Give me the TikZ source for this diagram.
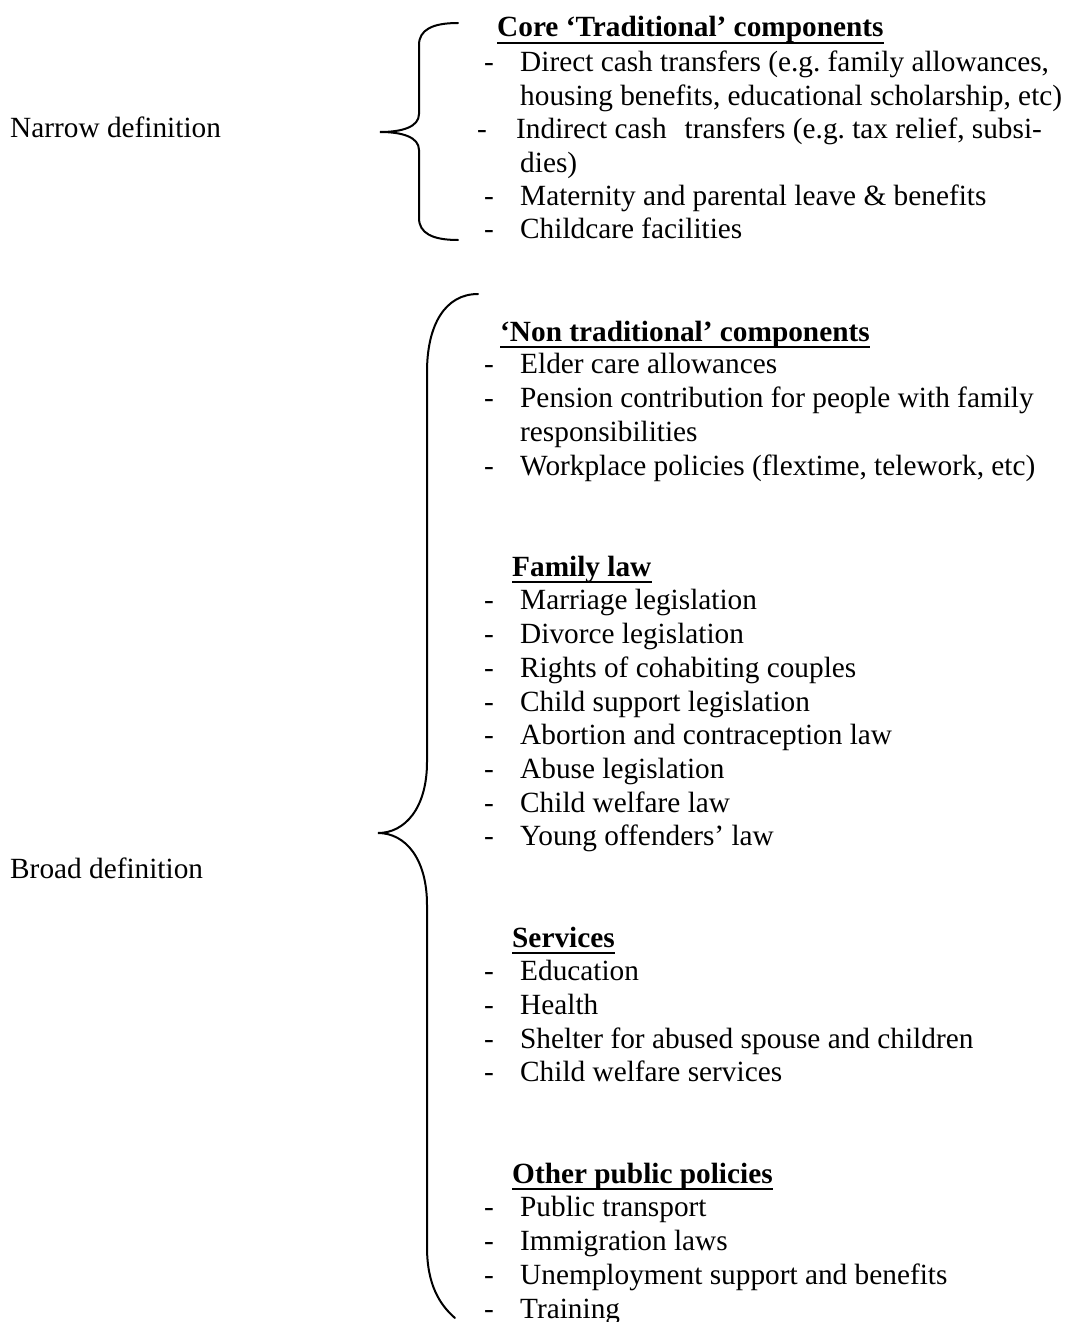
\documentclass[tikz,border=0pt]{standalone}
\usepackage{fontspec}
\setmainfont{Liberation Serif}
\frenchspacing
\begin{document}
\begin{tikzpicture}[x=1pt,y=-1pt,
  txt/.style={anchor=base west, inner sep=0pt, font=\fontsize{29.3}{33.6}\selectfont},
  hd/.style={anchor=base west, inner sep=0pt, font=\fontsize{29.3}{33.6}\selectfont\bfseries},
  ul/.style={line width=2.7pt},
  bracestyle/.style={line width=2pt, line cap=round}]
\useasboundingbox (0,0) rectangle (1066,1322);

% left labels
\node[txt] (narrow) at (10,137) {Narrow definition};
\node[txt] (broad) at (10,878) {Broad definition};

% top brace
\coordinate (tb1) at (458,23);
\coordinate (tbtip) at (380,132);
\coordinate (tb2) at (458,240);
\draw[bracestyle] (tb1) .. controls (432,23) and (419,30) .. (419,45)
  -- (419,114) .. controls (419,127) and (402,132) .. (tbtip)
  .. controls (402,132) and (419,137) .. (419,150)
  -- (419,218) .. controls (419,233) and (432,240) .. (tb2);

% big brace
\coordinate (bb1) at (478,294);
\coordinate (bbtip) at (378,833);
\coordinate (bb2) at (455,1318);
\draw[bracestyle] (bb1) .. controls (445,294) and (427,325) .. (427,372)
  -- (427,762) .. controls (427,808) and (405,833) .. (bbtip)
  .. controls (405,833) and (427,858) .. (427,905)
  -- (427,1247) .. controls (427,1285) and (440,1305) .. (bb2);

% Core traditional components
\node[hd] (h1) at (497,37) {Core ‘Traditional’ components};
\draw[ul] ([yshift=-6pt]h1.base west) -- ([yshift=-6pt]h1.base east);
\node[txt] (d11) at (484,71) {-};
\node[txt] (t11) at (520,71) {Direct cash transfers (e.g. family allowances,};
\node[txt] (t11b) at (520,105) {housing benefits, educational scholarship, etc)};
\node[txt] (d12) at (477,138) {-};
\node[txt] (t12) at (516,138) {Indirect cash\hspace{18pt}transfers (e.g. tax relief, subsi-};
\node[txt] (t12b) at (520,172) {dies)};
\node[txt] (d13) at (484,205) {-};
\node[txt] (t13) at (520,205) {Maternity and parental leave \& benefits};
\node[txt] (d14) at (484,238) {-};
\node[txt] (t14) at (520,238) {Childcare facilities};

% Non traditional components
\node[hd] (h2) at (500,341) {‘Non traditional’ components};
\draw[ul] ([yshift=-6pt]h2.base west) -- ([yshift=-6pt]h2.base east);
\node[txt] (d21) at (484,373) {-};
\node[txt] (t21) at (520,373) {Elder care allowances};
\node[txt] (d22) at (484,407) {-};
\node[txt] (t22) at (520,407) {Pension contribution for people with family};
\node[txt] (t22b) at (520,441) {responsibilities};
\node[txt] (d23) at (484,475) {-};
\node[txt] (t23) at (520,475) {Workplace policies (flextime, telework, etc)};

% Family law
\node[hd] (h3) at (512,576) {Family law};
\draw[ul] ([yshift=-6pt]h3.base west) -- ([yshift=-6pt]h3.base east);
\node[txt] (d31) at (484,609) {-};
\node[txt] (t31) at (520,609) {Marriage legislation};
\node[txt] (d32) at (484,643) {-};
\node[txt] (t32) at (520,643) {Divorce legislation};
\node[txt] (d33) at (484,677) {-};
\node[txt] (t33) at (520,677) {Rights of cohabiting couples};
\node[txt] (d34) at (484,711) {-};
\node[txt] (t34) at (520,711) {Child support legislation};
\node[txt] (d35) at (484,744) {-};
\node[txt] (t35) at (520,744) {Abortion and contraception law};
\node[txt] (d36) at (484,778) {-};
\node[txt] (t36) at (520,778) {Abuse legislation};
\node[txt] (d37) at (484,812) {-};
\node[txt] (t37) at (520,812) {Child welfare law};
\node[txt] (d38) at (484,845) {-};
\node[txt] (t38) at (520,845) {Young offenders’ law};

% Services
\node[hd] (h4) at (512,947) {Services};
\draw[ul] ([yshift=-6pt]h4.base west) -- ([yshift=-6pt]h4.base east);
\node[txt] (d41) at (484,980) {-};
\node[txt] (t41) at (520,980) {Education};
\node[txt] (d42) at (484,1014) {-};
\node[txt] (t42) at (520,1014) {Health};
\node[txt] (d43) at (484,1048) {-};
\node[txt] (t43) at (520,1048) {Shelter for abused spouse and children};
\node[txt] (d44) at (484,1081) {-};
\node[txt] (t44) at (520,1081) {Child welfare services};

% Other public policies
\node[hd] (h5) at (512,1183) {Other public policies};
\draw[ul] ([yshift=-6pt]h5.base west) -- ([yshift=-6pt]h5.base east);
\node[txt] (d51) at (484,1216) {-};
\node[txt] (t51) at (520,1216) {Public transport};
\node[txt] (d52) at (484,1250) {-};
\node[txt] (t52) at (520,1250) {Immigration laws};
\node[txt] (d53) at (484,1284) {-};
\node[txt] (t53) at (520,1284) {Unemployment support and benefits};
\node[txt] (d54) at (484,1318) {-};
\node[txt] (t54) at (520,1318) {Training};
\end{tikzpicture}
\end{document}
